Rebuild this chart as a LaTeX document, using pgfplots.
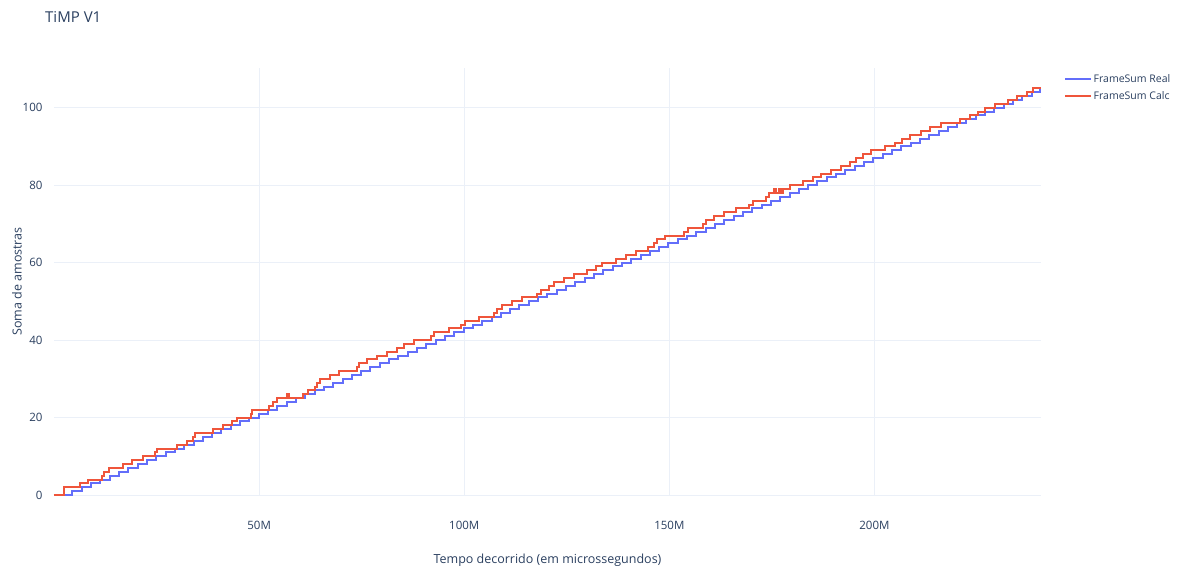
\documentclass[border=0pt]{standalone}
\usepackage{fontspec}
\setmainfont{Open Sans}
\usepackage{pgfplots}
\pgfplotsset{compat=1.18}
\definecolor{plblue}{HTML}{636EFA}
\definecolor{plred}{HTML}{EF553B}
\definecolor{pltext}{HTML}{2A3F5F}
\definecolor{plgrid}{HTML}{EBF0F8}
\begin{document}
\begin{tikzpicture}[x=1pt,y=1pt]
\path[use as bounding box] (0,0) rectangle (1182,570);
\node[anchor=west, font=\fontsize{15}{18}\selectfont, text=pltext, inner sep=0pt] at (45,553) {TiMP V1};
\begin{axis}[
  at={(54pt,75pt)}, anchor=south west,
  scale only axis, width=987pt, height=427pt,
  xmin=0, xmax=240.6, ymin=0, ymax=110.25,
  axis line style={draw=none}, major tick length=0pt,
  xtick={50,100,150,200}, xticklabels={50M,100M,150M,200M},
  ytick={20,40,...,100},
  extra y ticks={0}, extra y tick style={grid style={plgrid, line width=2pt}},
  grid=major, major grid style={plgrid, line width=1pt},
  ticklabel style={font=\fontsize{11.5}{14}\selectfont, text=pltext},
  /pgf/number format/assume math mode=true,
  xticklabel style={yshift=-30pt, anchor=center},
  yticklabel style={xshift=-8pt, anchor=east},
  every axis x label/.style={at={(axis description cs:0.5,0)}, anchor=center, yshift=-65pt, font=\fontsize{12.5}{15}\selectfont, text=pltext},
  every axis y label/.style={at={(axis description cs:0,0.5)}, anchor=center, rotate=90, yshift=37pt, font=\fontsize{12.5}{15}\selectfont, text=pltext},
  xlabel={Tempo decorrido (em microssegundos)},
  ylabel={Soma de amostras},
  legend style={at={(axis description cs:1,1)}, anchor=north west, xshift=23pt, yshift=-5pt, draw=none, fill=none, font=\fontsize{10.5}{13}\selectfont, text=pltext, row sep=4.5pt, inner sep=0pt, nodes={inner sep=1.5pt}},
  legend cell align=left,
  legend image code/.code={\draw[#1] (0pt,0pt) -- (26pt,0pt);},
  clip=false,
]
\addplot[plblue, line width=2pt, const plot mark left] coordinates {
(0,0) (4.50,1) (6.77,2) (9.04,3) (11.31,4) (13.58,5) (15.85,6) (18.12,7) (20.39,8) (22.66,9) (24.93,10)
(27.20,11) (29.47,12) (31.74,13) (34.01,14) (36.28,15) (38.55,16) (40.82,17) (43.09,18) (45.36,19) (47.63,20)
(49.90,21) (52.17,22) (54.44,23) (56.71,24) (58.98,25) (61.25,26) (63.52,27) (65.79,28) (68.06,29) (70.33,30)
(72.60,31) (74.87,32) (77.14,33) (79.41,34) (81.68,35) (83.95,36) (86.22,37) (88.49,38) (90.76,39) (93.03,40)
(95.30,41) (97.57,42) (99.84,43) (102.11,44) (104.38,45) (106.65,46) (108.92,47) (111.19,48) (113.46,49) (115.73,50)
(118.00,51) (120.27,52) (122.54,53) (124.81,54) (127.08,55) (129.35,56) (131.62,57) (133.89,58) (136.16,59) (138.43,60)
(140.70,61) (142.97,62) (145.24,63) (147.51,64) (149.78,65) (152.05,66) (154.32,67) (156.59,68) (158.86,69) (161.13,70)
(163.40,71) (165.67,72) (167.94,73) (170.21,74) (172.48,75) (174.75,76) (177.02,77) (179.29,78) (181.56,79) (183.83,80)
(186.10,81) (188.37,82) (190.64,83) (192.91,84) (195.18,85) (197.45,86) (199.72,87) (201.99,88) (204.26,89) (206.53,90)
(208.80,91) (211.07,92) (213.34,93) (215.61,94) (217.88,95) (220.15,96) (222.42,97) (224.69,98) (226.96,99) (229.23,100)
(231.50,101) (233.77,102) (236.04,103) (238.31,104) (240.3,105) (240.6,105)
};
\addlegendentry{FrameSum Real}
\addplot[plred, line width=2pt, const plot mark left] coordinates {
(0,0) (2.4,2) (6.3,3) (8.3,4) (11.6,5) (12.3,6) (13.3,7) (16.9,8) (18.9,9) (21.7,10)
(24.6,11) (25.0,12) (29.9,13) (32.3,14) (34.0,15) (34.4,16) (38.8,17) (41.1,18) (43.3,19) (44.5,20)
(48.0,21) (48.3,22) (52.5,23) (53.5,24) (54.3,25) (56.8,26) (57.2,25) (60.6,26) (62.0,27) (63.7,28)
(64.2,29) (64.9,30) (67.3,31) (69.4,32) (73.8,33) (74.3,34) (76.3,35) (78.7,36) (81.2,37) (83.6,38)
(85.2,39) (87.7,40) (91.8,41) (92.6,42) (96.3,43) (99.1,44) (100.1,45) (103.6,46) (107.3,47) (107.9,48)
(109.3,49) (111.7,50) (114.2,51) (117.8,52) (118.6,53) (120.7,54) (121.9,55) (124.3,56) (126.8,57) (130.0,58)
(132.1,59) (133.7,60) (137.0,61) (139.4,62) (141.8,63) (144.7,64) (146.3,65) (147.1,66) (148.9,67) (153.6,68)
(154.5,69) (158.1,70) (158.9,71) (161.0,72) (163.3,73) (166.3,74) (169.5,75) (170.3,76) (173.6,77) (174.4,78)
(175.6,79) (176.0,78) (176.8,79) (177.1,78) (177.6,79) (179.3,80) (182.6,81) (185.0,82) (187.0,83) (189.5,84)
(191.9,85) (194.0,86) (195.6,87) (197.2,88) (199.2,89) (202.5,90) (204.9,91) (206.6,92) (208.6,93) (211.4,94)
(213.5,95) (216.3,96) (220.8,97) (223.3,98) (225.3,99) (226.9,100) (229.4,101) (232.6,102) (234.7,103) (237.1,104)
(238.7,105) (240.6,105)
};
\addlegendentry{FrameSum Calc}
\end{axis}
\end{tikzpicture}
\end{document}
